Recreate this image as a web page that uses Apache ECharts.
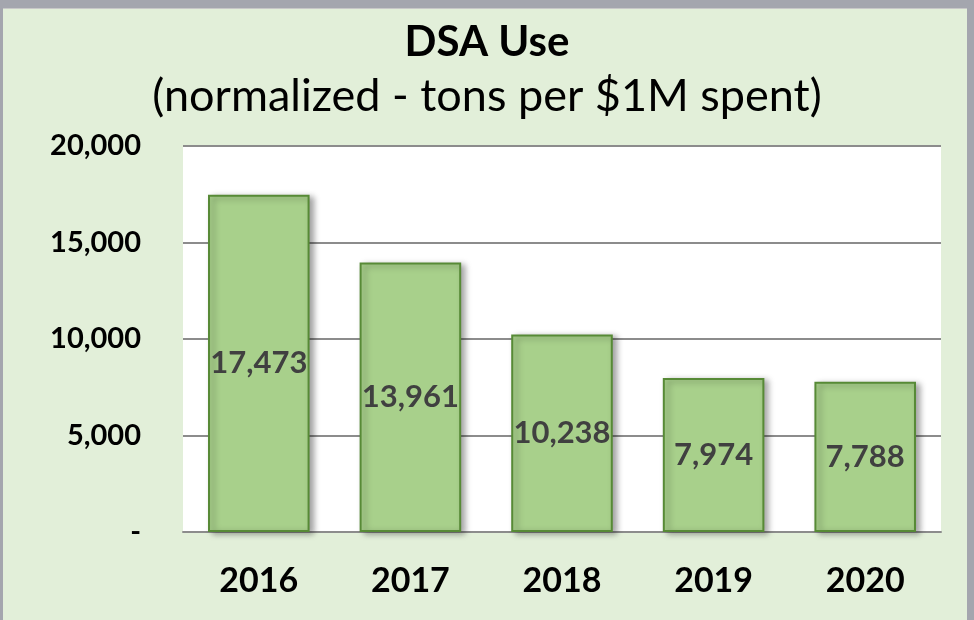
<!DOCTYPE html>
<html>
<head>
<meta charset="utf-8">
<script src="https://cdn.jsdelivr.net/npm/echarts@6/dist/echarts.min.js"></script>
<style>
  html, body { margin: 0; padding: 0; }
  body { width: 974px; height: 620px; background: #a4a6ae; position: relative; overflow: hidden; }
  #frame { position: absolute; left: 3px; top: 8px; width: 964px; height: 612px; background: #e2efd9; border-top: 1px solid #c8c8c8; }
  #chart { position: absolute; left: -3px; top: -8px; width: 974px; height: 620px; }
</style>
</head>
<body>
<div id="frame"><div id="chart"></div></div>
<script>
var years = ['2016', '2017', '2018', '2019', '2020'];
var dsaUse = [17473, 13961, 10238, 7974, 7788];
var yTicks = [0, 5000, 10000, 15000, 20000];

var chart = echarts.init(document.getElementById('chart'));

function fmt(v) {
  if (v === 0) return '-';
  return String(v).replace(/\B(?=(\d{3})+(?!\d))/g, ',');
}

chart.setOption({
  backgroundColor: 'transparent',
  textStyle: { fontFamily: 'Lato' },
  title: {
    text: 'DSA Use',
    subtext: '(normalized - tons per $1M spent)',
    left: 'center',
    top: 15,
    itemGap: 11,
    textStyle: { fontFamily: 'Lato', fontWeight: 'bold', fontSize: 42, color: '#000' },
    subtextStyle: { fontFamily: 'Lato', fontSize: 45, color: '#000' }
  },
  grid: { left: 183, right: 33, top: 145, bottom: 89, containLabel: false, show: true, backgroundColor: '#fff', borderWidth: 0 },
  xAxis: {
    type: 'category',
    data: years,
    axisTick: { show: false },
    axisLine: { lineStyle: { color: '#8c8c8c', width: 2 } },
    axisLabel: { fontFamily: 'Lato', fontWeight: 'bold', fontSize: 34, color: '#000', margin: 32 }
  },
  yAxis: {
    type: 'value',
    min: yTicks[0],
    max: yTicks[yTicks.length - 1],
    interval: 5000,
    axisLine: { show: false },
    axisTick: { show: false },
    splitLine: { lineStyle: { color: '#8c8c8c', width: 2 } },
    axisLabel: { fontFamily: 'Lato', fontWeight: 'bold', fontSize: 29, color: '#000', margin: 42, formatter: fmt }
  },
  series: [{
    type: 'bar',
    data: dsaUse,
    barWidth: '67%',
    itemStyle: {
      color: '#a8d08b',
      borderColor: '#578a36',
      borderWidth: 2,
      shadowColor: 'rgba(0,0,0,0.35)',
      shadowBlur: 6,
      shadowOffsetX: 4,
      shadowOffsetY: 2
    },
    label: {
      show: true,
      position: 'inside',
      fontFamily: 'Lato',
      fontWeight: 'bold',
      fontSize: 31,
      color: '#404040',
      formatter: function (p) { return fmt(p.value); }
    }
  }]
});
</script>
</body>
</html>
